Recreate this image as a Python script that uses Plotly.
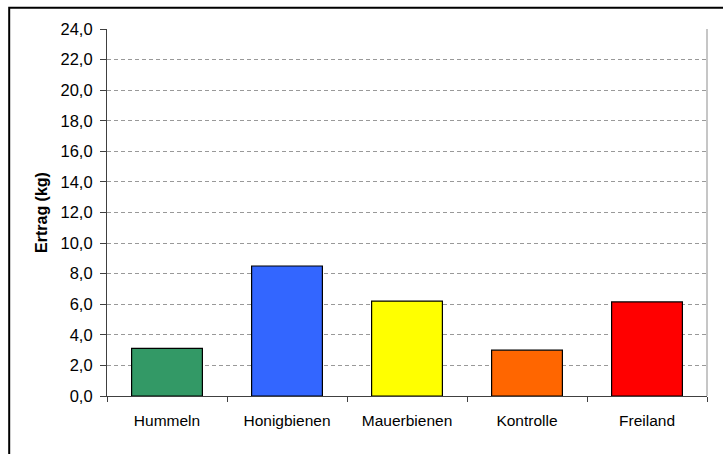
import plotly.graph_objects as go

categories = ["Hummeln", "Honigbienen", "Mauerbienen", "Kontrolle", "Freiland"]
values = [3.12, 8.5, 6.21, 3.0, 6.15]
colors = ["#339966", "#3366FF", "#FFFF00", "#FF6600", "#FF0000"]
y_title = "Ertrag (kg)"

fig = go.Figure()
fig.add_trace(go.Bar(
    x=categories, y=values, width=0.59,
    marker=dict(color=colors, line=dict(color="#000000", width=1.2)),
    hoverinfo="skip",
))

font_family = "Liberation Sans, Arial, sans-serif"

fig.update_layout(
    width=723, height=454,
    margin=dict(l=107, r=16, t=29, b=58, pad=0),
    paper_bgcolor="white", plot_bgcolor="white",
    showlegend=False,
    separators=",.",
    font=dict(family=font_family, color="#000000"),
    xaxis=dict(
        type="category", automargin=False,
        showline=True, linecolor="#404040", linewidth=1.2,
        ticks="outside", tickson="boundaries", ticklen=5, tickcolor="#404040",
        tickfont=dict(size=15.5, family=font_family, color="#000000"),
        showgrid=False, zeroline=False,
        ticklabelstandoff=10,
    ),
    yaxis=dict(
        range=[0, 24], dtick=2, tickformat=".1f", automargin=False,
        showline=True, linecolor="#404040", linewidth=1.2,
        ticks="outside", ticklen=6, tickcolor="#404040",
        tickfont=dict(size=16.5, family=font_family, color="#000000"),
        showgrid=True, gridcolor="#999999", gridwidth=1, griddash="4px,3px",
        zeroline=False, ticklabelstandoff=4,
        title=dict(text=y_title, font=dict(size=16, family=font_family, color="#000000", weight="bold"), standoff=8),
    ),
    shapes=[
        dict(type="rect", xref="paper", yref="paper", x0=-0.163, x1=1.2, y0=-0.5, y1=1.058,
             line=dict(color="#000000", width=2), fillcolor="rgba(0,0,0,0)", layer="above"),
        dict(type="line", xref="paper", yref="paper", x0=1, x1=1, y0=0, y1=1,
             line=dict(color="#A0A0A0", width=1.2), layer="above"),
    ],
)

fig.write_html("out.html", config={"displayModeBar": False},
               post_script="document.body.style.margin='0';")
